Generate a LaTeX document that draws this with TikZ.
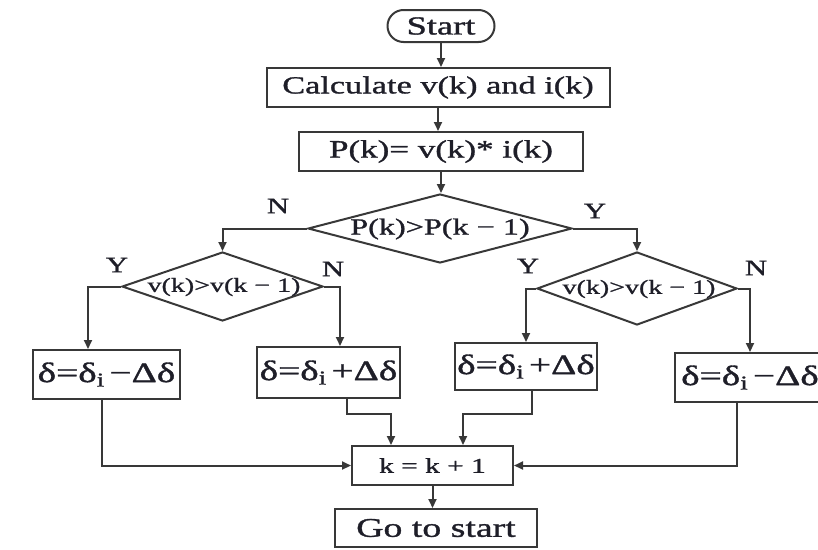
\documentclass[tikz,border=0pt]{standalone}
\usepackage{fontspec}
\setmainfont{Liberation Serif}[FakeStretch=1.4,FakeBold=1.2]
\usetikzlibrary{shapes.geometric,arrows.meta,calc}
\definecolor{lncol}{HTML}{383838}
\definecolor{txcol}{HTML}{1E1E28}
\newcommand{\fsz}[1]{\fontsize{#1}{#1}\selectfont}
\begin{document}
\begin{tikzpicture}[x=1pt,y=-1pt,
  box/.style={draw=lncol, line width=2pt, rectangle, inner sep=0pt, text=txcol},
  dia/.style={draw=lncol, line width=2pt, diamond, inner sep=0pt},
  arr/.style={draw=lncol, line width=2pt, -{Triangle[length=9pt,width=8pt]}},
  diatext/.style={text=txcol, inner sep=0pt},
  lbl/.style={text=txcol, inner sep=0pt, font=\fsz{22}}]
\useasboundingbox (0,0) rectangle (818,549);
\clip (0,0) rectangle (818,549);
% nodes
\node[box, rounded corners=16pt, minimum width=107pt, minimum height=32pt, font=\fsz{26}] (start) at (441,26) {Start};
\node[box, minimum width=343pt, minimum height=39pt, font=\fsz{24.5}] (calc) at (438,87.5) {Calculate v(k) and i(k)};
\node[box, minimum width=284pt, minimum height=39pt, font=\fsz{25}] (pk) at (441,151.5) {P(k)= v(k)* i(k)};
\node[dia, minimum width=264pt, minimum height=69pt] (D) at (440,228.5) {};
\node[diatext, font=\fsz{23}] (Dt) at (440,229) {P(k)>P(k − 1)};
\node[dia, minimum width=201pt, minimum height=69pt] (d1) at (222.5,286.5) {};
\node[diatext, font=\fsz{20}] (d1t) at (224,287) {v(k)>v(k − 1)};
\node[dia, minimum width=200pt, minimum height=73pt] (d2) at (637,288.5) {};
\node[diatext, font=\fsz{20}] (d2t) at (639,289) {v(k)>v(k − 1)};
\node[box, minimum width=147pt, minimum height=49pt, font=\fsz{28}] (b1) at (106.5,374.5) {δ=δ\textsubscript{i}\,−Δδ};
\node[box, minimum width=143pt, minimum height=51pt, font=\fsz{28}] (b2) at (328.5,372.5) {δ=δ\textsubscript{i}\,+Δδ};
\node[box, minimum width=142pt, minimum height=47pt, font=\fsz{28}] (b3) at (526,366.5) {δ=δ\textsubscript{i}\,+Δδ};
\node[box, minimum width=150pt, minimum height=49pt, font=\fsz{28}] (b4) at (750,377.5) {δ=δ\textsubscript{i}\,−Δδ};
\node[box, minimum width=161pt, minimum height=39pt, font=\fsz{21}] (k) at (432.5,465.5) {k = k + 1};
\node[box, minimum width=202pt, minimum height=38pt, font=\fsz{27}] (go) at (436,528) {Go to start};
% labels
\node[lbl] (lN0) at (278,206) {N};
\node[lbl] (lY0) at (595,211) {Y};
\node[lbl] (lY1) at (117,265) {Y};
\node[lbl] (lN1) at (333,269) {N};
\node[lbl] (lY2) at (528,266) {Y};
\node[lbl] (lN2) at (756,268) {N};
% connectors
\draw[arr] (start.south) -- (start.south |- calc.north);
\draw[arr] (calc.south) -- (calc.south |- pk.north);
\draw[arr] (pk.south) -- (pk.south |- D.north);
\draw[arr] (D.west) -| (d1.north);
\draw[arr] (D.east) -| (d2.north);
\draw[arr] (d1.west) -| ([xshift=-18.5pt]b1.north);
\draw[arr] (d1.east) -| ([xshift=11.5pt]b2.north);
\draw[arr] (d2.west) -| (b3.north);
\draw[arr] (d2.east) -| (b4.north);
\draw[arr] ([xshift=-4.5pt]b1.south) |- (k.west);
\draw[arr] ([xshift=18.5pt]b2.south) -- ++(0,15) -| ([xshift=-41.5pt]k.north);
\draw[arr] ([xshift=6pt]b3.south) -- ++(0,23) -| ([xshift=30.5pt]k.north);
\draw[arr] ([xshift=-13pt]b4.south) |- (k.east);
\draw[arr] (k.south) -- (k.south |- go.north);
\end{tikzpicture}
\end{document}
